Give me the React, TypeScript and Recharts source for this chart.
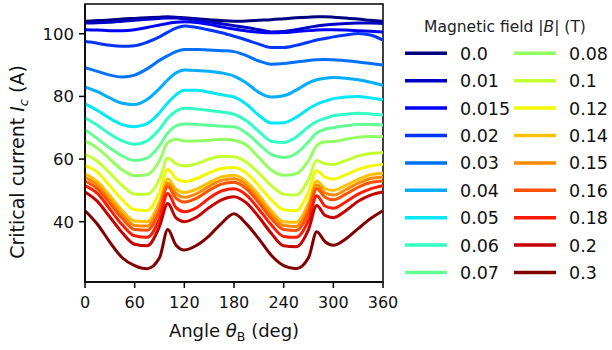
import React from 'react';
import { LineChart, Line, XAxis, YAxis, ReferenceArea, Legend, Label } from 'recharts';

const angles = [0, 15, 30, 45, 60, 75, 90, 100, 110, 120, 135, 150, 165, 180, 195, 210, 225, 240, 255, 270, 280, 290, 300, 315, 330, 345, 360];

const fieldLabels = ['0.0', '0.01', '0.015', '0.02', '0.03', '0.04', '0.05', '0.06', '0.07', '0.08', '0.1', '0.12', '0.14', '0.15', '0.16', '0.18', '0.2', '0.3'];

// critical current (A) per field, sampled at `angles`
const ic_000 = [104, 104.2, 104.4, 104.7, 104.9, 105.1, 105.3, 105.4, 105.3, 105.1, 104.8, 104.5, 104.2, 104, 104.1, 104.3, 104.5, 104.8, 105.1, 105.3, 105.4, 105.4, 105.3, 105, 104.7, 104.3, 104];
const ic_001 = [103.4, 103.5, 103.7, 104, 104.3, 104.6, 104.9, 105, 105, 104.8, 104.4, 103.8, 103.2, 102.6, 102, 101.3, 100.6, 100.7, 101.3, 102, 102.5, 102.8, 103, 103.3, 103.4, 103.4, 103.3];
const ic_0015 = [101.3, 101.2, 101, 101, 101.3, 102, 102.8, 103.3, 103.7, 103.8, 103.6, 103, 102.2, 101.5, 100.9, 100.5, 100.3, 100.4, 100.7, 101, 101.2, 101.3, 101.3, 101.2, 101, 100.8, 100.6];
const ic_002 = [97.5, 97, 96.3, 96, 96.2, 97.3, 99, 100.5, 101.8, 102.5, 102, 101.2, 100.3, 99.2, 98, 96.7, 95.6, 95.6, 96.3, 97.3, 98, 98.5, 99, 99.6, 100.1, 99.6, 98];
const ic_003 = [89.2, 88, 86.8, 86.2, 86.8, 88.8, 91.5, 93, 94.3, 95, 95, 94.8, 94.6, 94.3, 93, 91.3, 90.3, 90.5, 91, 91.5, 91.7, 91.8, 91.7, 91.4, 91, 90.5, 90];
const ic_004 = [83, 81.5, 79.5, 77.8, 77.4, 79, 82.5, 85.3, 87.5, 88.4, 88.3, 88, 87.5, 86.5, 84.3, 81.3, 79.8, 80.2, 82, 84.3, 85.3, 85.8, 86, 85.8, 85.3, 84.5, 83.5];
const ic_005 = [77.6, 75.5, 73, 71, 70.3, 71.3, 74.8, 78, 80.5, 82, 82, 81.3, 80.5, 79.8, 77.5, 74, 71.5, 71.6, 73.3, 76, 77.5, 78.5, 79.3, 79.8, 80, 79.5, 78.9];
const ic_006 = [73.2, 70.8, 68, 65.8, 64.7, 65.8, 69.5, 73, 75.3, 76.2, 76, 75.5, 75, 74.3, 72.2, 68.8, 65.7, 65.3, 67, 70.3, 72, 73, 73.8, 74.3, 74.6, 74.4, 74.1];
const ic_007 = [69.4, 66.5, 63.5, 61, 59.5, 60.3, 64.3, 68.3, 70.6, 71.2, 71, 70.8, 70.5, 70.3, 68.3, 64.8, 61.5, 60.5, 61.8, 65.5, 68.3, 69.5, 70, 70.6, 71, 71, 70.9];
const ic_008 = [65.8, 63.5, 60, 56.5, 54.7, 55, 59.5, 65.3, 66.3, 65.8, 65.8, 66, 66.3, 66, 64.5, 60.5, 56.5, 54.8, 55.3, 59.5, 64.3, 65.5, 65.6, 66.3, 67, 67.2, 67.1];
const ic_010 = [61.5, 59.3, 55.5, 51.5, 48.8, 48.8, 53.5, 60.3, 58.5, 57.8, 58.5, 60, 60.8, 60.7, 59, 55.5, 51.5, 48.8, 48.5, 53.5, 59.5, 58.5, 58.3, 59.5, 61, 61.8, 62];
const ic_012 = [58, 55.8, 51.5, 47, 43.8, 43.6, 49.5, 56.7, 53.8, 52.8, 53.8, 55.6, 57, 57.3, 55.5, 51.5, 47, 43.8, 43.5, 49.5, 56.3, 54.2, 53.6, 55, 56.7, 57.8, 58.3];
const ic_014 = [55.3, 52.8, 48.3, 43.6, 40.2, 40, 46.3, 53.6, 50.4, 49.3, 50.4, 52.5, 54.3, 54.8, 52.8, 48.5, 43.5, 40, 39.8, 46, 53, 50.6, 50, 51.6, 53.5, 55, 55.5];
const ic_015 = [54.2, 51.7, 47, 42.3, 38.8, 38.6, 45, 52.3, 49, 47.8, 49, 51.3, 53.2, 53.7, 51.7, 47.2, 42.2, 38.8, 38.5, 44.5, 51.7, 49.2, 48.5, 50.2, 52.3, 53.8, 54.3];
const ic_016 = [53, 50.5, 45.8, 41, 37.5, 37.3, 43.5, 51.2, 47.5, 46.3, 47.5, 50, 52, 52.6, 50.5, 46, 41, 37.5, 37.2, 43, 50.5, 47.8, 47, 48.8, 51, 52.5, 53];
const ic_018 = [51.5, 49, 44, 39, 35.5, 35, 41, 49, 44.5, 43.2, 44.5, 47.5, 49.8, 50.5, 48.5, 44, 39, 35.3, 35, 40.5, 48.3, 45, 44.3, 46.3, 48.8, 50.5, 51.5];
const ic_020 = [49.5, 46.5, 41.5, 36.5, 32.8, 32.3, 38.5, 45.8, 41.2, 40, 41.5, 44.5, 47, 48, 46, 41.5, 36.3, 32.3, 32, 37.5, 45.2, 42, 41.3, 43.5, 46.5, 48.5, 49.5];
const ic_030 = [43.5, 39.2, 33.5, 28.5, 26, 25, 28.5, 37.5, 32.5, 31, 32.5, 35.5, 39.5, 42.5, 39.3, 34.5, 29.3, 26, 25, 28.5, 36.8, 33.6, 32.5, 34.5, 37.8, 41, 43.5];

const xTicks = [0, 60, 120, 180, 240, 300, 360];
const yTicks = [40, 60, 80, 100];

const seriesValues = [ic_000, ic_001, ic_0015, ic_002, ic_003, ic_004, ic_005, ic_006, ic_007, ic_008, ic_010, ic_012, ic_014, ic_015, ic_016, ic_018, ic_020, ic_030];

// jet colormap, one step per field
const jet = ['#000080', '#0000c4', '#0000ff', '#0035ff', '#0071ff', '#00adff', '#02e8f4', '#33ffc4', '#63ff93', '#93ff62', '#c4ff32', '#f4f800', '#ffc100', '#ff8900', '#ff5200', '#ff1a00', '#c40000', '#800000'];

const data = angles.map((a, i) => {
  const row: Record<string, number> = { angle: a };
  seriesValues.forEach((vals, s) => {
    row[`b${s}`] = vals[i];
  });
  return row;
});

const FONT = 'DejaVu Sans';
const Y_MIN = 20.75;
const Y_MAX = 109.5;

const LegendBox = () => {
  const rowY = (i: number) => 53.3 + i * 27.4;
  return (
    <svg width={212} height={300} style={{ fontFamily: FONT }}>
      <text x={105} y={32} textAnchor="middle" fontSize={15.5} fill="#222">
        Magnetic field |<tspan fontStyle="italic">B</tspan>| (T)
      </text>
      {fieldLabels.map((lab, i) => {
        const col = i < 9 ? 0 : 1;
        const row = i % 9;
        const x0 = col === 0 ? 5 : 114;
        const y = rowY(row);
        return (
          <g key={lab}>
            <line x1={x0} x2={x0 + 42} y1={y} y2={y} stroke={jet[i]} strokeWidth={3.5} />
            <text x={x0 + 55} y={y + 6.5} fontSize={17.5} fill="#111">
              {lab}
            </text>
          </g>
        );
      })}
    </svg>
  );
};

const YTitle = () => (
  <text
    x={24}
    y={162}
    transform="rotate(-90, 24, 162)"
    textAnchor="middle"
    fontSize={19}
    fontFamily={FONT}
    fill="#111"
  >
    Critical current <tspan fontStyle="italic">I</tspan>
    <tspan fontSize={13} dy={4} fontStyle="italic">c</tspan>
    <tspan dy={-4}> (A)</tspan>
  </text>
);

const XTitle = () => (
  <text x={234} y={337} textAnchor="middle" fontSize={18} fontFamily={FONT} fill="#111">
    Angle <tspan fontStyle="italic">θ</tspan>
    <tspan fontSize={12.5} dy={4}>B</tspan>
    <tspan dy={-4}> (deg)</tspan>
  </text>
);

const App: React.FC = () => {
  return (
    <div style={{ position: 'absolute', left: 0, top: 0, width: 612, height: 350, background: '#fff' }}>
      <LineChart
        width={612}
        height={350}
        data={data}
        margin={{ top: 4, right: 229, bottom: 0, left: 0 }}
      >
        <XAxis
          dataKey="angle"
          type="number"
          domain={[0, 360]}
          ticks={xTicks}
          height={68}
          tickSize={6}
          tickMargin={9}
          stroke="#000"
          strokeWidth={1.5}
          tick={{ fill: '#111', fontSize: 16, fontFamily: FONT }}
        >
          <Label content={<XTitle />} />
        </XAxis>
        <YAxis
          type="number"
          domain={[Y_MIN, Y_MAX]}
          ticks={yTicks}
          allowDataOverflow
          width={85}
          tickSize={6}
          tickMargin={5}
          stroke="#000"
          strokeWidth={1.5}
          tick={{ fill: '#111', fontSize: 16.5, fontFamily: FONT }}
        >
          <Label content={<YTitle />} />
        </YAxis>
        <ReferenceArea x1={0} x2={360} y1={Y_MIN} y2={Y_MAX} fill="none" stroke="#000" strokeWidth={1.5} />
        {fieldLabels.map((lab, s) => (
          <Line
            key={lab}
            type="monotone"
            dataKey={`b${s}`}
            name={lab}
            stroke={jet[s]}
            strokeWidth={3}
            dot={false}
            isAnimationActive={false}
          />
        ))}
        <Legend
          layout="horizontal"
          verticalAlign="middle"
          align="center"
          content={<LegendBox />}
          wrapperStyle={{ position: 'absolute', left: 400, top: 0, width: 212, height: 300 }}
        />
      </LineChart>
    </div>
  );
};

export default App;
